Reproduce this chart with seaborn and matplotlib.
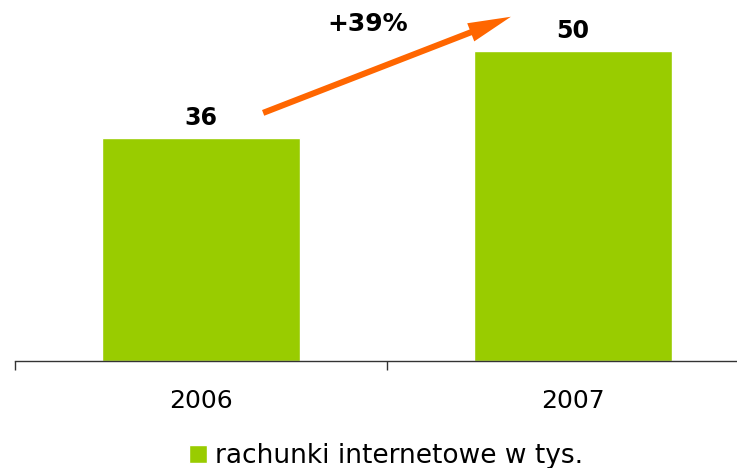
import pandas as pd
import matplotlib.pyplot as plt
import seaborn as sns

sns.set_style("white")
plt.rcParams['font.family'] = ['DejaVu Sans']
plt.rcParams['text.color'] = 'black'
plt.rcParams['xtick.color'] = 'black'

years = ["2006", "2007"]
values = [36, 50]
series = "rachunki internetowe w tys."
growth = "+39%"

df = pd.DataFrame({"rok": years, "wartosc": values, "seria": series})

fig = plt.figure(figsize=(7.37, 4.68), dpi=100)
ax = fig.add_axes([15 / 737, 1 - 361 / 468, 744 / 737, 361 / 468])

sns.barplot(data=df, x="rok", y="wartosc", hue="seria", palette=["#99CC00"],
            width=0.53, saturation=1, ax=ax)

ax.set_xlim(-0.5, 1.5)
ax.set_ylim(0, 58.2)
ax.set_xlabel("")
ax.set_ylabel("")
ax.set_yticks([])
for s in ["top", "right", "left"]:
    ax.spines[s].set_visible(False)
ax.spines["bottom"].set_color("#333333")
ax.spines["bottom"].set_linewidth(1)

ax.set_xticks([0, 1])
ax.set_xticklabels(years, fontsize=18)
ax.tick_params(axis="x", which="major", bottom=True, length=0, pad=20)
ax.set_xticks([-0.5, 0.5, 1.5], minor=True)
ax.tick_params(axis="x", which="minor", bottom=True, length=6.5, width=1,
               color="#333333", direction="out")

for i, v in enumerate(values):
    ax.text(i, v + 1.2, str(v), ha="center", va="bottom", fontsize=17,
            fontweight="bold", color="black")

ax.annotate("", xy=(0.833, 55.5), xytext=(0.167, 40.0),
            arrowprops=dict(arrowstyle="simple,head_length=1.55,head_width=0.7,tail_width=0.22",
                            mutation_scale=20, lw=0, color="#FF6600",
                            shrinkA=0, shrinkB=0))
ax.text(0.447, 54.3, growth, ha="center", va="center", fontsize=18,
        fontweight="bold", color="black")

leg = ax.legend(loc="center", bbox_to_anchor=(386 / 737, 1 - 456 / 468),
                bbox_transform=fig.transFigure, frameon=False, fontsize=19,
                handlelength=0.7, handleheight=0.7, handletextpad=0.3,
                borderaxespad=0, borderpad=0)

fig.savefig("out.png", dpi=100)
